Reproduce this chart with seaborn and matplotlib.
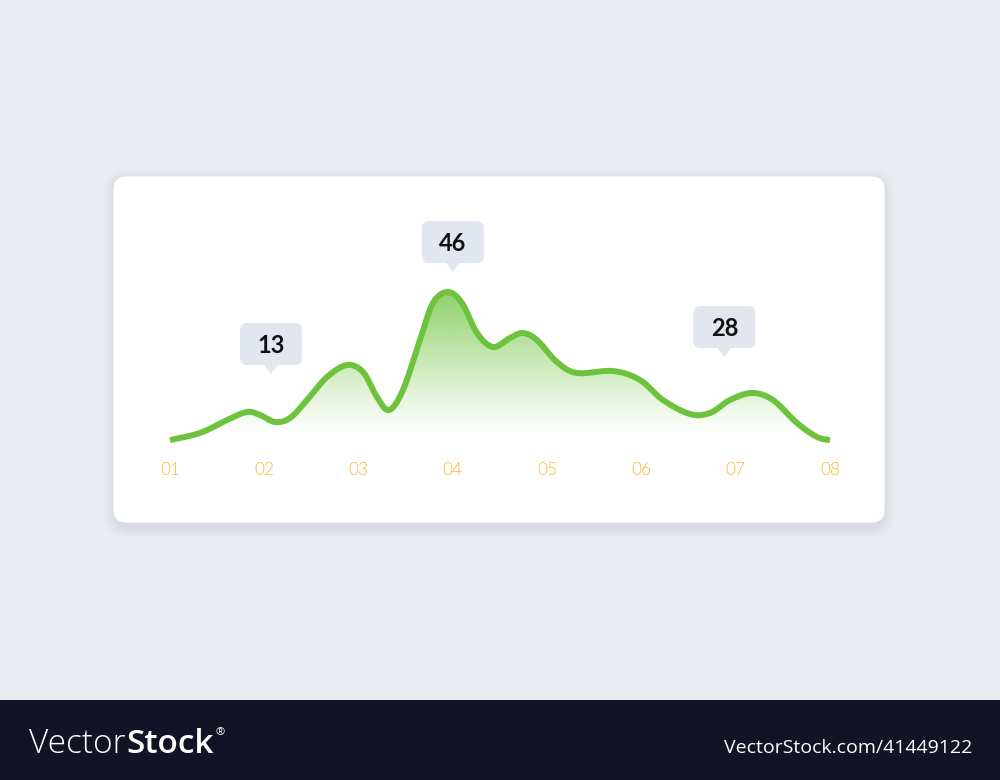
import numpy as np
import matplotlib
matplotlib.use("Agg")
import matplotlib.pyplot as plt
import matplotlib.patches as mpatches
import seaborn as sns

# curve (x: 0 = "01" ... 7 = "08")
curve_x = [0.000, 0.318, 0.605, 0.817, 0.955, 1.114, 1.273, 1.453, 1.665, 1.877,
           2.047, 2.195, 2.323, 2.471, 2.651, 2.789, 2.948, 3.097, 3.256, 3.426,
           3.606, 3.744, 3.892, 4.104, 4.316, 4.698, 4.985, 5.228, 5.515, 5.727,
           5.939, 6.172, 6.395, 6.650, 6.862, 7.000]
curve_y = [1.5, 3.6, 7.5, 9.9, 9.0, 6.9, 8.1, 13.5, 20.4, 24.0,
           21.9, 14.4, 10.5, 16.5, 31.5, 42.6, 45.9, 42.6, 33.6, 29.4,
           32.1, 33.6, 31.5, 24.9, 21.6, 22.2, 19.5, 13.5, 9.3, 9.6,
           13.5, 15.6, 13.5, 6.6, 2.4, 1.5]

tick_labels = ["01", "02", "03", "04", "05", "06", "07", "08"]

callout_text = ["13", "46", "28"]
callout_x = [1.07, 3.00, 5.88]
callout_y = [21.3, 51.9, 26.4]

GREEN = "#6dc23e"
ORANGE = "#f8b836"
BG = "#e8ebf0"
BUBBLE = "#e1e6ef"


def smooth(x, y, n=24):
    # Catmull-Rom through the read points, only for drawing a smooth line
    x = np.asarray(x, float)
    y = np.asarray(y, float)
    px = np.concatenate([[x[0]], x, [x[-1]]])
    py = np.concatenate([[y[0]], y, [y[-1]]])
    xs, ys = [], []
    for i in range(1, len(px) - 2):
        t = np.linspace(0, 1, n, endpoint=False)
        for arr, out in ((px, xs), (py, ys)):
            p0, p1, p2, p3 = arr[i - 1], arr[i], arr[i + 1], arr[i + 2]
            out.append(0.5 * ((2 * p1) + (-p0 + p2) * t
                              + (2 * p0 - 5 * p1 + 4 * p2 - p3) * t ** 2
                              + (-p0 + 3 * p1 - 3 * p2 + p3) * t ** 3))
    xs.append([x[-1]])
    ys.append([y[-1]])
    return np.concatenate(xs), np.concatenate(ys)


sns.set_theme(style="white")
plt.rcParams["font.family"] = ["Lato", "DejaVu Sans"]

fig = plt.figure(figsize=(10, 7.8), dpi=100)
fig.patch.set_facecolor(BG)

W, H = 1000, 780


def fx(px):
    return px / W


def fy(py):
    return (H - py) / H


# card shadow + card
for i, a in enumerate([0.025, 0.03, 0.04, 0.05]):
    g = 10 - i * 2.5
    sh = mpatches.FancyBboxPatch((fx(113 - g + 2), fy(523 + g + 4)),
                                 fx(772 + 2 * g - 4), (347 + 2 * g) / H,
                                 boxstyle="round,pad=0,rounding_size=0.02",
                                 mutation_aspect=W / H,
                                 transform=fig.transFigure, fc="#7a8090",
                                 ec="none", alpha=a, zorder=0)
    fig.patches.append(sh)
card = mpatches.FancyBboxPatch((fx(113), fy(523)), fx(772), 347 / H,
                               boxstyle="round,pad=0,rounding_size=0.014",
                               mutation_aspect=W / H,
                               transform=fig.transFigure, fc="white",
                               ec="#dfe2e8", lw=0.6, zorder=1)
fig.patches.append(card)

# bottom banner
fig.patches.append(mpatches.Rectangle((0, 0), 1, 80 / H, transform=fig.transFigure,
                                      fc="#121326", ec="none", zorder=1))
wm_font = ["Open Sans", "DejaVu Sans"]
t1 = fig.text(fx(29), fy(753), "Vector", color="white", fontsize=24, va="baseline",
              ha="left", family=wm_font, fontweight="light")
fig.text(fx(972), fy(753), "VectorStock.com/41449122", color="white", fontsize=14,
         va="baseline", ha="right", family=wm_font)

# plot axes: x 0..7 -> px 170..830, y 0 -> py 445, scale 0.3 per px
ax = fig.add_axes([fx(170), fy(445), 660 / W, 245 / H])
ax.set_zorder(2)
ax.patch.set_alpha(0)
ax.set_xlim(0, 7)
ax.set_ylim(0, 245 * 0.3)

sx, sy = smooth(curve_x, curve_y)

# gradient fill under the curve
grad = np.linspace(0, 1, 256)[:, None]
alpha = np.clip((grad * 73.5 - 3) / 43, 0, 1) ** 1.1 * 0.82
rgba = np.zeros((256, 1, 4))
rgba[..., :3] = matplotlib.colors.to_rgb("#76c647")
rgba[..., 3] = alpha
im = ax.imshow(rgba, extent=[0, 7, 0, 73.5], origin="lower", aspect="auto",
               zorder=1, interpolation="bilinear")
verts = np.column_stack([np.concatenate([sx, [7, 0]]), np.concatenate([sy, [0, 0]])])
clip = mpatches.Polygon(verts, closed=True, transform=ax.transData, fc="none", ec="none")
ax.add_patch(clip)
im.set_clip_path(clip)

sns.lineplot(x=sx, y=sy, ax=ax, color=GREEN, lw=4.3, sort=False, zorder=3,
             solid_capstyle="butt", solid_joinstyle="round")
ax.lines[-1].set_clip_on(False)

ax.set_xticks(range(len(tick_labels)))
ax.set_xticklabels(tick_labels, color=ORANGE, fontsize=12.5, fontweight=300)
ax.tick_params(axis="x", length=0, pad=12)
ax.set_yticks([])
sns.despine(ax=ax, left=True, bottom=True)
ax.grid(False)

# callout bubbles
fig.canvas.draw()
to_fig = fig.transFigure.inverted()
for txt, cx, cy in zip(callout_text, callout_x, callout_y):
    tx, ty = ax.transData.transform((cx, cy))
    bw, bh, th, tw = 62, 42, 9, 7
    (x0, y0) = to_fig.transform((tx - bw / 2, ty + th))
    (x1, y1) = to_fig.transform((tx + bw / 2, ty + th + bh))
    box = mpatches.FancyBboxPatch((x0, y0), x1 - x0, y1 - y0,
                                  boxstyle="round,pad=0,rounding_size=0.007",
                                  mutation_aspect=W / H,
                                  transform=fig.transFigure, fc=BUBBLE, ec="none",
                                  zorder=5)
    fig.patches.append(box)
    tri = [to_fig.transform(p) for p in ((tx - tw, ty + th + 0.5), (tx + tw, ty + th + 0.5), (tx, ty))]
    fig.patches.append(mpatches.Polygon(tri, closed=True, transform=fig.transFigure,
                                        fc=BUBBLE, ec="none", zorder=5))
    fig.text((x0 + x1) / 2, (y0 + y1) / 2 - 0.002, txt, ha="center", va="center",
             fontsize=17, fontweight="bold", color="#111111", zorder=6)

# watermark: "Stock" right after "Vector", then the registered sign
bb = t1.get_window_extent(fig.canvas.get_renderer())
sx0 = to_fig.transform((bb.x1 + 1, 0))[0]
t2 = fig.text(sx0, fy(753), "Stock", color="white", fontsize=24, va="baseline",
              ha="left", family=wm_font, fontweight="semibold")
bb2 = t2.get_window_extent(fig.canvas.get_renderer())
fig.text(to_fig.transform((bb2.x1 + 1, 0))[0], fy(727), "®", color="white",
         fontsize=8, va="top", ha="left", family=wm_font)

fig.savefig("out.png", dpi=100, facecolor=BG)
